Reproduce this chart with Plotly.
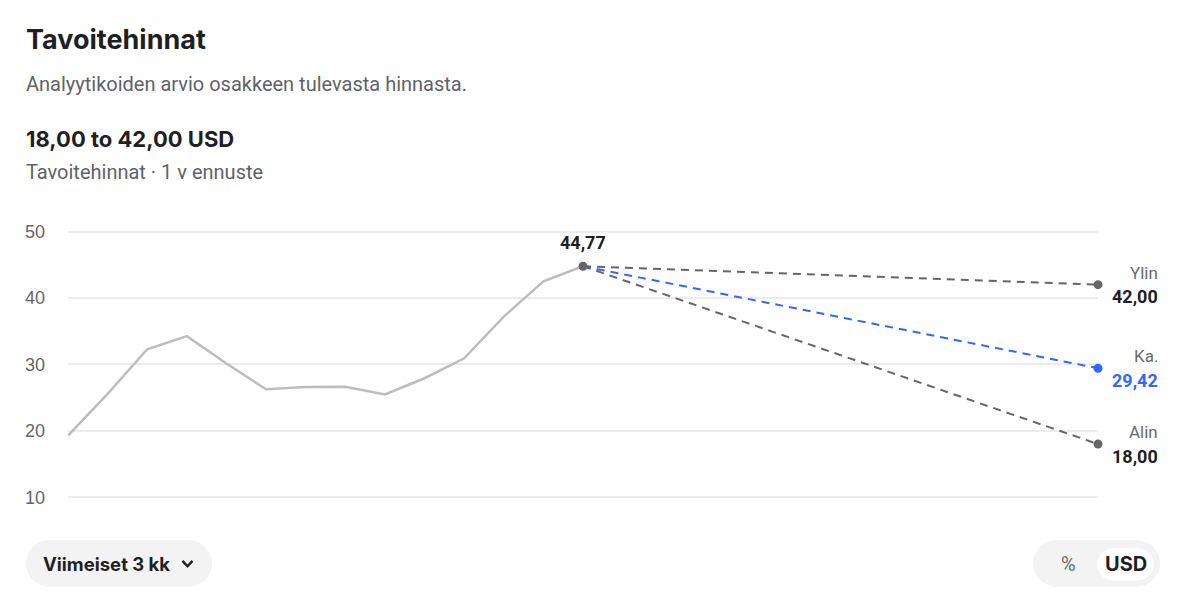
import plotly.graph_objects as go

W, H = 1185, 614

# ---- data ----
hist_idx = list(range(14))
hist_price = [19.28, 25.56, 32.28, 34.25, 30.12, 26.25, 26.59, 26.64, 25.46, 27.91, 30.91, 37.19, 42.49, 44.77]
last_price = 44.77
forecast_idx = 26
target_names = ["Ylin", "Ka.", "Alin"]
target_values = [42.00, 29.42, 18.00]
target_colors = ["#666666", "#3366ff", "#666666"]
target_value_colors = ["#1f1f1f", "#3366ff", "#1f1f1f"]
y_ticks = [10, 20, 30, 40, 50]

# ---- helpers (pixel -> paper) ----
def px(x):
    return x / W

def py(y):
    return 1 - y / H

def rounded_rect(x0, y0, x1, y1, r):
    k = 0.5523 * r
    pts = [
        f"M {px(x0 + r)} {py(y0)}",
        f"L {px(x1 - r)} {py(y0)}",
        f"C {px(x1 - r + k)} {py(y0)} {px(x1)} {py(y0 + r - k)} {px(x1)} {py(y0 + r)}",
        f"L {px(x1)} {py(y1 - r)}",
        f"C {px(x1)} {py(y1 - r + k)} {px(x1 - r + k)} {py(y1)} {px(x1 - r)} {py(y1)}",
        f"L {px(x0 + r)} {py(y1)}",
        f"C {px(x0 + r - k)} {py(y1)} {px(x0)} {py(y1 - r + k)} {px(x0)} {py(y1 - r)}",
        f"L {px(x0)} {py(y0 + r)}",
        f"C {px(x0)} {py(y0 + r - k)} {px(x0 + r - k)} {py(y0)} {px(x0 + r)} {py(y0)}",
        "Z",
    ]
    return " ".join(pts)

fig = go.Figure()

# history line
fig.add_trace(go.Scatter(
    x=hist_idx, y=hist_price, mode="lines",
    line=dict(color="#bdbdbd", width=2.5),
    cliponaxis=False, hoverinfo="skip", showlegend=False,
))

# forecast dashed lines
for name, val, col in zip(target_names, target_values, target_colors):
    fig.add_trace(go.Scatter(
        x=[hist_idx[-1], forecast_idx], y=[last_price, val], mode="lines",
        line=dict(color=col, width=2, dash="8px,6px"),
        cliponaxis=False, hoverinfo="skip", showlegend=False,
    ))

# end markers
fig.add_trace(go.Scatter(
    x=[forecast_idx] * 3, y=target_values, mode="markers",
    marker=dict(color=target_colors, size=9),
    cliponaxis=False, hoverinfo="skip", showlegend=False,
))
# last price marker
fig.add_trace(go.Scatter(
    x=[hist_idx[-1]], y=[last_price], mode="markers",
    marker=dict(color="#666666", size=9),
    cliponaxis=False, hoverinfo="skip", showlegend=False,
))

annotations = []
label_font = "Roboto, Arial, sans-serif"

def fmt(v):
    return f"{v:.2f}".replace(".", ",")

annotations.append(dict(
    x=hist_idx[-1], y=last_price, xref="x", yref="y", text=f"<b>{fmt(last_price)}</b>",
    showarrow=False, yshift=24, xanchor="center", yanchor="middle",
    font=dict(family=label_font, size=18, color="#1f1f1f"),
))
for name, val, vcol in zip(target_names, target_values, target_value_colors):
    annotations.append(dict(
        x=forecast_idx, y=val, xref="x", yref="y", text=name,
        showarrow=False, xshift=62, yshift=12, xanchor="right", yanchor="middle",
        font=dict(family=label_font, size=17, color="#6b6b6b"),
    ))
    annotations.append(dict(
        x=forecast_idx, y=val, xref="x", yref="y", text=f"<b>{fmt(val)}</b>",
        showarrow=False, xshift=62, yshift=-12, xanchor="right", yanchor="middle",
        font=dict(family=label_font, size=18, color=vcol),
    ))

# header texts
head_font = "Inter, Roboto, sans-serif"
annotations += [
    dict(x=px(24), y=py(34), xref="paper", yref="paper", text="<b>Tavoitehinnat</b>",
         showarrow=False, xanchor="left", yanchor="middle",
         font=dict(family=head_font, size=27, color="#1f1f1f")),
    dict(x=px(24), y=py(80), xref="paper", yref="paper",
         text="Analyytikoiden arvio osakkeen tulevasta hinnasta.",
         showarrow=False, xanchor="left", yanchor="middle",
         font=dict(family="Roboto, Arial, sans-serif", size=20, color="#5f6368")),
    dict(x=px(24), y=py(136), xref="paper", yref="paper", text="<b>18,00 to 42,00 USD</b>",
         showarrow=False, xanchor="left", yanchor="middle",
         font=dict(family=head_font, size=22, color="#1f1f1f")),
    dict(x=px(24), y=py(169), xref="paper", yref="paper", text="Tavoitehinnat · 1 v ennuste",
         showarrow=False, xanchor="left", yanchor="middle",
         font=dict(family="Roboto, Arial, sans-serif", size=20, color="#5f6368")),
    dict(x=px(41), y=py(569), xref="paper", yref="paper", text="<b>Viimeiset 3 kk</b>",
         showarrow=False, xanchor="left", yanchor="middle",
         font=dict(family=head_font, size=18.5, color="#1f1f1f")),
    dict(x=px(1068), y=py(569), xref="paper", yref="paper", text="%",
         showarrow=False, xanchor="center", yanchor="middle",
         font=dict(family="Roboto, Arial, sans-serif", size=20, color="#6b6b6b")),
    dict(x=px(1126), y=py(569), xref="paper", yref="paper", text="<b>USD</b>",
         showarrow=False, xanchor="center", yanchor="middle",
         font=dict(family=head_font, size=20, color="#1f1f1f")),
]

shapes = [
    dict(type="path", xref="paper", yref="paper", path=rounded_rect(26, 545, 212, 592, 23.5),
         fillcolor="#f3f3f3", line=dict(width=0), layer="below"),
    dict(type="path", xref="paper", yref="paper", path=rounded_rect(1033, 545, 1160, 592, 23.5),
         fillcolor="#f3f3f3", line=dict(width=0), layer="below"),
    dict(type="path", xref="paper", yref="paper", path=rounded_rect(1097, 553, 1154, 586, 16.5),
         fillcolor="#ffffff", line=dict(width=0), layer="below"),
    # chevron
    dict(type="path", xref="paper", yref="paper",
         path=f"M {px(182.5)} {py(566)} L {px(187.5)} {py(571.5)} L {px(192.5)} {py(566)}",
         line=dict(color="#1f1f1f", width=2.4)),
]

y_lo, y_hi = 9.4, 50.6
pxu = (501 - 230) / 40.0
dom_top = 1 - (230 - (y_hi - 50) * pxu) / H
dom_bot = 1 - (501 + (10 - y_lo) * pxu) / H

fig.update_layout(
    width=W, height=H,
    margin=dict(l=0, r=0, t=0, b=0, pad=0),
    paper_bgcolor="white", plot_bgcolor="white",
    showlegend=False,
    xaxis=dict(domain=[px(68), px(1098)], range=[0, forecast_idx],
               showgrid=False, zeroline=False, showline=False,
               showticklabels=False, ticks="", fixedrange=True),
    yaxis=dict(domain=[dom_bot, dom_top], range=[y_lo, y_hi],
               tickvals=y_ticks, ticktext=[str(t) for t in y_ticks],
               showgrid=True, gridcolor="#ececec", gridwidth=1.5,
               zeroline=False, showline=False, ticks="",
               ticklabelstandoff=22,
               tickfont=dict(family="Arial, 'Liberation Sans', sans-serif", size=18, color="#666666"),
               fixedrange=True),
    annotations=annotations,
    shapes=shapes,
    hovermode=False,
)

post = "document.body.style.margin='0';"
fig.write_html("out.html", post_script=post, config={"displayModeBar": False})
